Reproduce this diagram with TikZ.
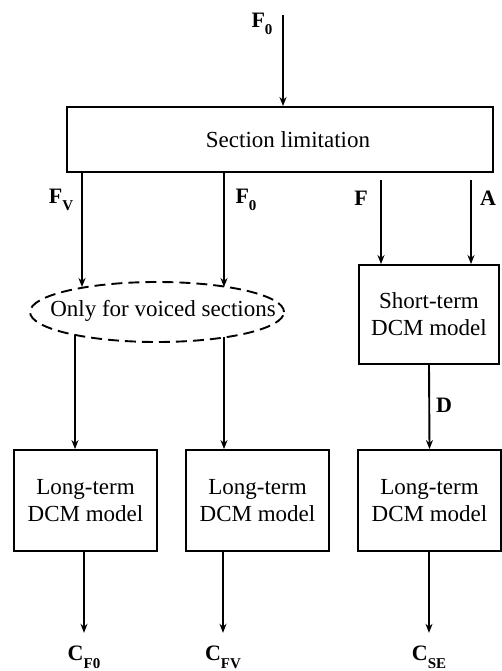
\documentclass[tikz,border=0pt]{standalone}
\usepackage{fontspec}
\setmainfont{Liberation Serif}
\usetikzlibrary{arrows.meta}
\usetikzlibrary{positioning}
\newcommand{\lblsub}[2]{\textbf{#1}\raisebox{-0.35em}{\fontsize{15}{15}\selectfont\textbf{#2}}}
\tikzset{
	every path/.style = {line width=1.9pt},
	blk/.style = {draw, rectangle, line width=1.9pt, align=center, font=\fontsize{23}{27}\selectfont},
	lbl/.style = {inner sep=0pt, font=\fontsize{22}{22}\selectfont},
	outp/.style = {lbl, inner ysep=12pt},
	sig/.style = {-{Stealth[length=9pt,width=7pt]}}
}

\begin{document}
\begin{tikzpicture}[x=1pt,y=-1pt]
	\useasboundingbox (0,0) rectangle (502,671);
	% blocks
	\node[blk, minimum width=426pt, minimum height=65pt] (sec) at (280,139.5) {\hspace*{16pt}Section limitation};
	\node[blk, minimum width=140pt, minimum height=99pt] (st) at (429,314.5) {Short-term\\DCM model};
	\node[blk, minimum width=143pt, minimum height=101pt] (lt1) at (85.5,500.5) {Long-term\\DCM model};
	\node[blk, minimum width=143pt, minimum height=101pt] (lt2) at (257.5,500.5) {Long-term\\DCM model};
	\node[blk, minimum width=143pt, minimum height=101pt] (lt3) at (429.5,500.5) {Long-term\\DCM model};
	% dashed selector
	\coordinate (ec) at (157,312);
	\draw[dash pattern=on 11pt off 6pt] (ec) ellipse [x radius=127pt, y radius=30pt];
	\node[font=\fontsize{23}{27}\selectfont, inner sep=0pt] (ell) at (163,311) {Only for voiced sections};
	% free ends
	\coordinate (f0in) at (283,15);
	\coordinate (ev) at (82,287);
	\coordinate (e0) at (224,287);
	\coordinate (eb1) at (75,335);
	\coordinate (eb2) at (224,337);
	\coordinate (fF) at (381,180);
	\coordinate (fA) at (471,180);
	% outputs
	\node[outp] (o1) at (84,657) {\lblsub{C}{F0}};
	\node[outp] (o2) at (223,657) {\lblsub{C}{FV}};
	\node[outp] (o3) at (429,657) {\lblsub{C}{SE}};
	% labels
	\node[lbl] (lf0) at (262,24) {\lblsub{F}{0}};
	\node[lbl] (lfv) at (61,200) {\lblsub{F}{V}};
	\node[lbl] (lf0b) at (246,200) {\lblsub{F}{0}};
	\node[lbl] (lf) at (361,198) {\textbf{F}};
	\node[lbl] (la) at (488,198) {\textbf{A}};
	\node[lbl] (ld) at (444,405) {\textbf{D}};
	% connectors
	\draw[sig] (f0in) -- (sec.north -| f0in);
	\draw[sig] (sec.south -| ev) -- (ev);
	\draw[sig] (sec.south -| e0) -- (e0);
	\draw[sig] (fF) -- (st.north -| fF);
	\draw[sig] (fA) -- (st.north -| fA);
	\draw[sig] (eb1) -- (lt1.north -| eb1);
	\draw[sig] (eb2) -- (lt2.north -| eb2);
	\draw[sig] (st.south) -- (lt3.north);
	\draw[sig] (lt1.south -| o1) -- (o1.north);
	\draw[sig] (lt2.south -| o2) -- (o2.north);
	\draw[sig] (lt3.south -| o3) -- (o3.north);
\end{tikzpicture}
\end{document}
